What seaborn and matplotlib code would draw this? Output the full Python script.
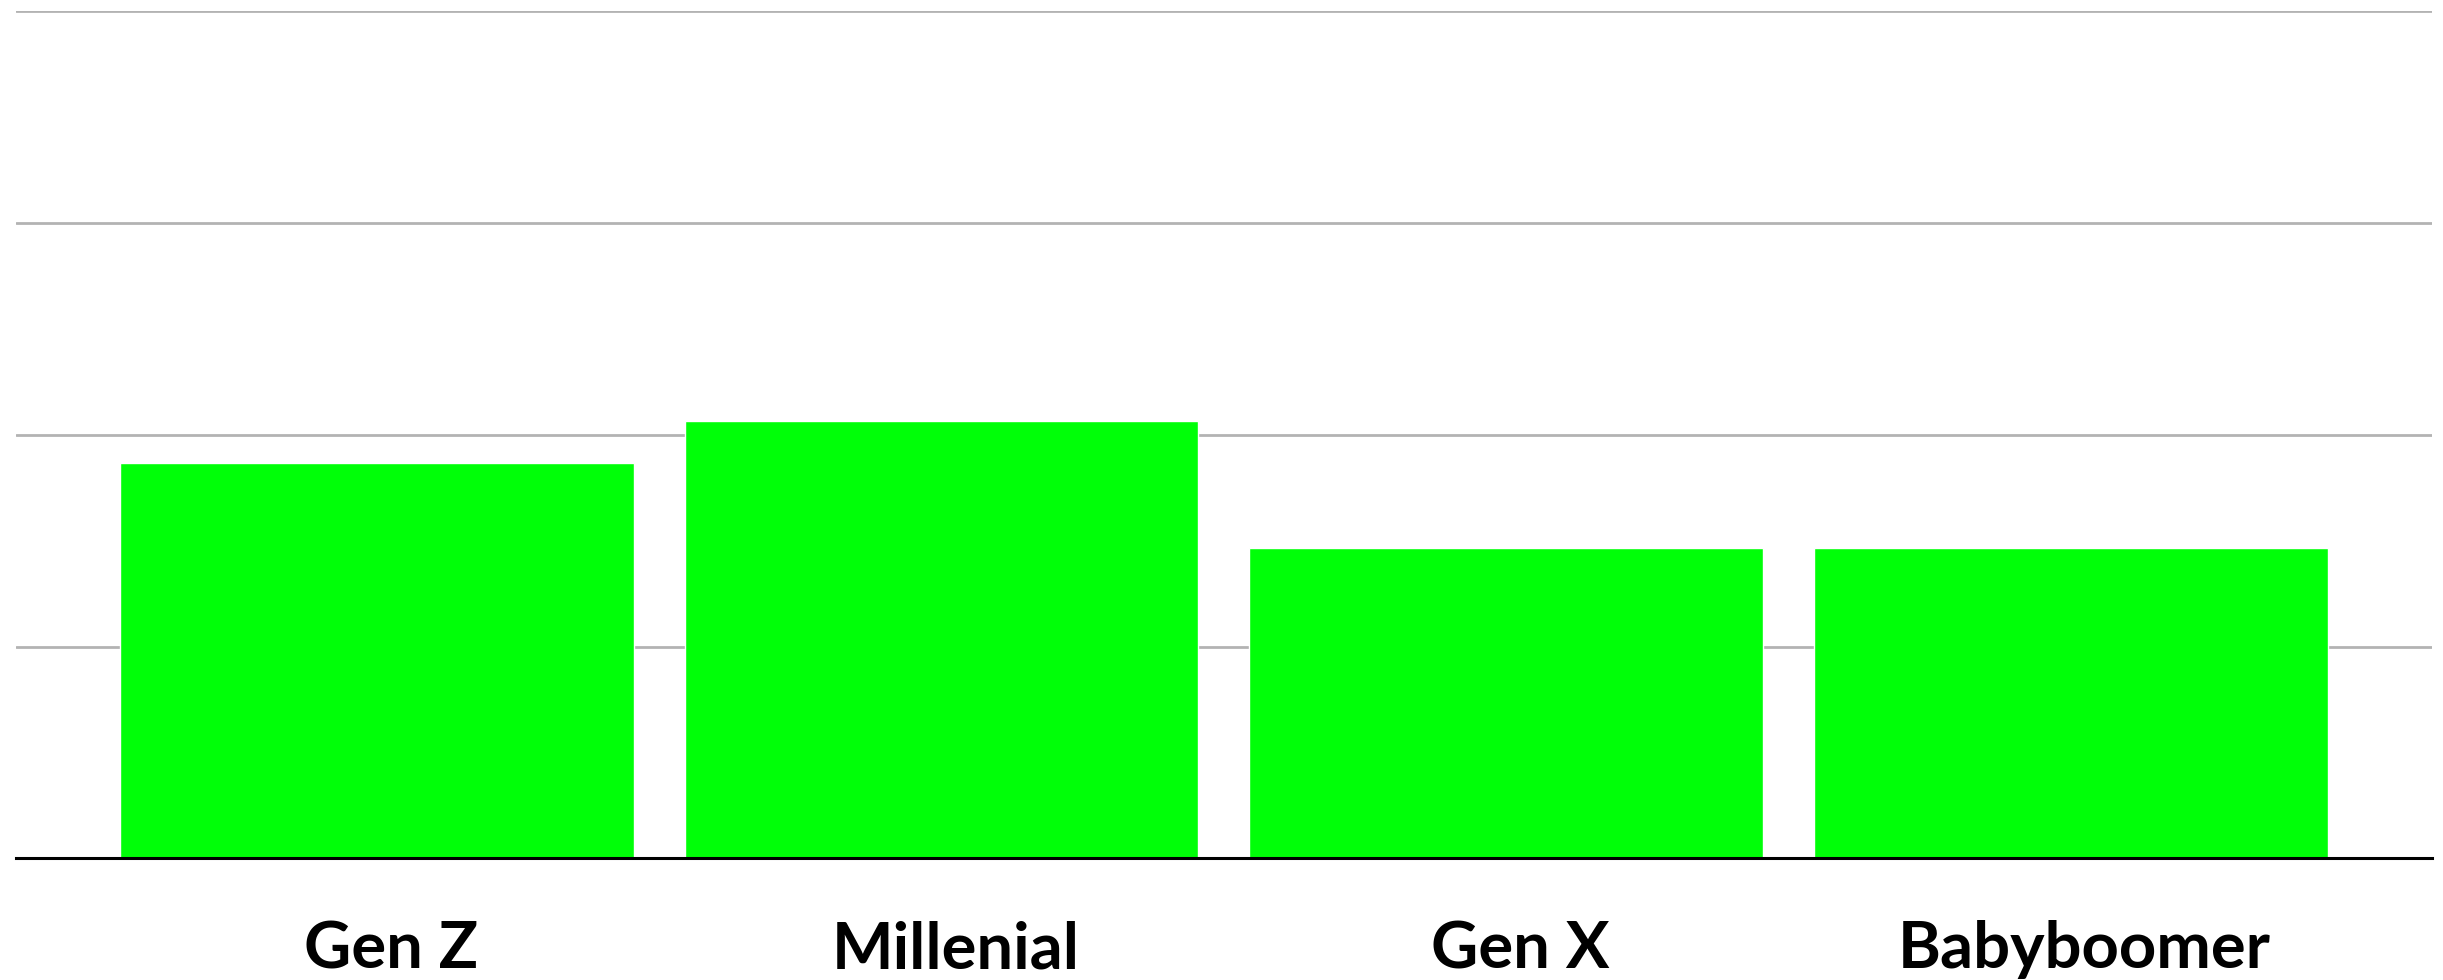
import pandas as pd
import matplotlib.pyplot as plt
import matplotlib.transforms as mtransforms
import seaborn as sns

generations = ['Gen Z', 'Millenial', 'Gen X', 'Babyboomer']
values = [28, 31, 22, 22]
grid_ticks = [0, 15, 30, 45, 60]

df = pd.DataFrame({'generation': generations, 'value': values})

sns.set_style('white')
plt.rcParams['font.family'] = ['Lato', 'DejaVu Sans']

fig = plt.figure(figsize=(24.43, 9.8), dpi=100)
ax = fig.add_axes([0.0064, 0.124, 0.9891, 0.865])

sns.barplot(x='generation', y='value', data=df, color='#00ff08',
            saturation=1, width=0.91, ax=ax, zorder=2)

ax.set_xlim(-0.64, 3.64)
ax.set_ylim(0, 60)
ax.set_yticks(grid_ticks)
ax.yaxis.grid(True, color='#b3b3b3', linewidth=2, zorder=0)
ax.set_axisbelow(True)
ax.tick_params(axis='y', left=False, labelleft=False)
ax.tick_params(axis='x', bottom=False, pad=41, labelsize=47, labelcolor='black')

# labels sit a touch right of the bar centres in the original
shift = mtransforms.ScaledTranslation(10 / 72, 0, fig.dpi_scale_trans)
for lbl in ax.get_xticklabels():
    lbl.set_fontweight('bold')
    lbl.set_transform(lbl.get_transform() + shift)

for side in ['top', 'left', 'right']:
    ax.spines[side].set_visible(False)
ax.spines['bottom'].set_color('black')
ax.spines['bottom'].set_linewidth(2.2)
ax.spines['bottom'].set_zorder(3)

ax.set_xlabel('')
ax.set_ylabel('')

fig.savefig('out.png', dpi=100)
